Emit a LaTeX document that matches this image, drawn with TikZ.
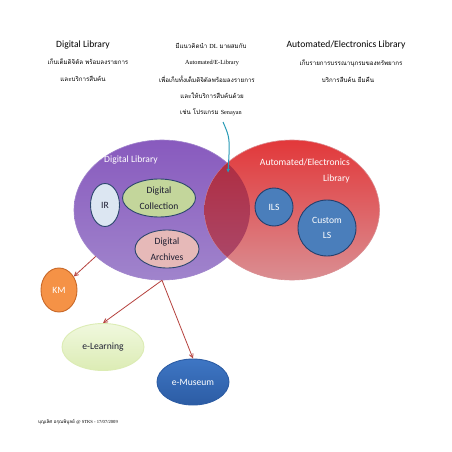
\documentclass[tikz,border=0pt]{standalone}
\usepackage{fontspec}
\setmainfont{Liberation Serif}
\newfontfamily\thaifont[Script=Thai]{Loma}
\newfontfamily\calfont{Carlito}
\usetikzlibrary{arrows.meta,shapes.geometric}

\definecolor{dlpurple}{RGB}{136,90,190}
\definecolor{dllight}{RGB}{160,132,204}
\definecolor{alred}{RGB}{226,56,58}
\definecolor{alpink}{RGB}{218,142,146}
\definecolor{ovtop}{RGB}{176,40,58}
\definecolor{ovbot}{RGB}{170,76,112}
\definecolor{edgeblue}{RGB}{44,70,110}
\definecolor{irblue}{RGB}{220,230,242}
\definecolor{colgreen}{RGB}{195,214,155}
\definecolor{arcpink}{RGB}{230,185,184}
\definecolor{lsblue}{RGB}{74,126,187}
\definecolor{lsedge}{RGB}{36,64,110}
\definecolor{kmorange}{RGB}{245,146,70}
\definecolor{kmedge}{RGB}{200,104,40}
\definecolor{eltop}{RGB}{240,248,222}
\definecolor{elbot}{RGB}{220,236,180}
\definecolor{emtop}{RGB}{62,118,196}
\definecolor{embot}{RGB}{44,92,164}
\definecolor{linkred}{RGB}{182,66,62}
\definecolor{notecyan}{RGB}{40,155,182}
\definecolor{darktext}{RGB}{30,30,50}

\begin{document}
\begin{tikzpicture}[x=1pt,y=-1pt,
    lbl/.style={font=\calfont\fontsize{9.6}{15.5}\selectfont, align=center, inner sep=0pt},
    thai/.style={font=\thaifont\fontsize{6.2}{8}\selectfont, inner sep=0pt},
    blob/.style={ellipse, inner sep=0pt, line width=0.9pt, lbl},
    link/.style={draw=linkred, line width=0.8pt, -{Straight Barb[length=4pt,width=4pt]}}]
\useasboundingbox[fill=white] (0,0) rectangle (452,452);

% headings
\node[lbl] (dltitle) at (83,45) {Digital Library};
\node[thai] (dlline1) at (88,62) {เก็บเต็มดิจิตัล พร้อมลงรายการ};
\node[thai] (dlline2) at (83,79) {และบริการสืบค้น};
\node[lbl] (altitle) at (346,45) {Automated/Electronics Library};
\node[thai] (alline1) at (351,63) {เก็บรายการบรรณานุกรมของทรัพยากร};
\node[thai] (alline2) at (348,80) {บริการสืบค้น ยืมคืน};

% idea in the middle
\node[thai] (mid1) at (211,46) {มีแนวคิดนำ {\rmfamily DL} มาผสมกับ};
\node[thai] (mid2) at (212,63) {\rmfamily Automated/E-Library};
\node[thai] (mid3) at (207,79) {เพื่อเก็บทั้งเต็มดิจิตัลพร้อมลงรายการ};
\node[thai] (mid4) at (212,96) {และให้บริการสืบค้นด้วย};
\node[thai] (mid5) at (211,112) {เช่น โปรแกรม {\rmfamily Senayan}};

% the two libraries
\node[ellipse, minimum width=176, minimum height=140, draw=dllight, line width=0.6pt,
      top color=dlpurple, bottom color=dllight] (dl) at (162,210) {};
\node[ellipse, minimum width=175, minimum height=140, draw=alpink, line width=0.6pt,
      top color=alred, bottom color=alpink] (al) at (292,210) {};
\begin{scope}
  \clip (162,210) ellipse (88 and 70);
  \shade[top color=ovtop, bottom color=ovbot] (292,210) ellipse (87.5 and 70);
\end{scope}

\node[lbl, text=white] (dllabel) at (131,160) {Digital Library};
\node[lbl, text=white, align=right, anchor=east] (allabel) at (350,171) {Automated/Electronics\\Library};

\node[blob, draw=edgeblue, fill=irblue, text=darktext, minimum width=29, minimum height=43] (ir) at (105,205) {IR};
\node[blob, draw=edgeblue, fill=colgreen, text=darktext, minimum width=73, minimum height=38] (dcol) at (159,198) {Digital\\Collection};
\node[blob, draw=edgeblue, fill=arcpink, text=darktext, minimum width=64, minimum height=38] (darc) at (167,249) {Digital\\Archives};
\node[blob, draw=lsedge, fill=lsblue, text=white, minimum width=38, minimum height=38] (ils) at (274,207) {ILS};
\node[blob, draw=lsedge, fill=lsblue, text=white, minimum width=58, minimum height=56] (cls) at (327,228) {Custom\\LS};

% services below
\node[blob, draw=kmedge, fill=kmorange, text=white, minimum width=36, minimum height=44] (km) at (59,290) {KM};
\node[blob, draw=elbot, top color=eltop, bottom color=elbot, text=darktext, minimum width=82, minimum height=47] (elearn) at (103,347) {e-Learning};
\node[blob, draw=embot, top color=emtop, bottom color=embot, text=white, minimum width=72, minimum height=46] (emus) at (193,382) {e-Museum};

\draw[link] (dl.215) -- (km);
\draw[link] (dl.south) -- (elearn.north);
\draw[link] (dl.south) -- (emus.north);

% note arrow into the overlap
\coordinate (notestart) at (223,122);
\coordinate (overlap) at (228,173);
\draw[notecyan, line width=1pt, -{Latex[length=4pt,width=3.5pt]}] (notestart) .. controls (230,138) .. (overlap);

\node[thai, font=\thaifont\fontsize{4.6}{6}\selectfont] (credit) at (78,422) {บุญเลิศ อรุณพิบูลย์ {\rmfamily @ STKS - 17/07/2009}};
\end{tikzpicture}
\end{document}
